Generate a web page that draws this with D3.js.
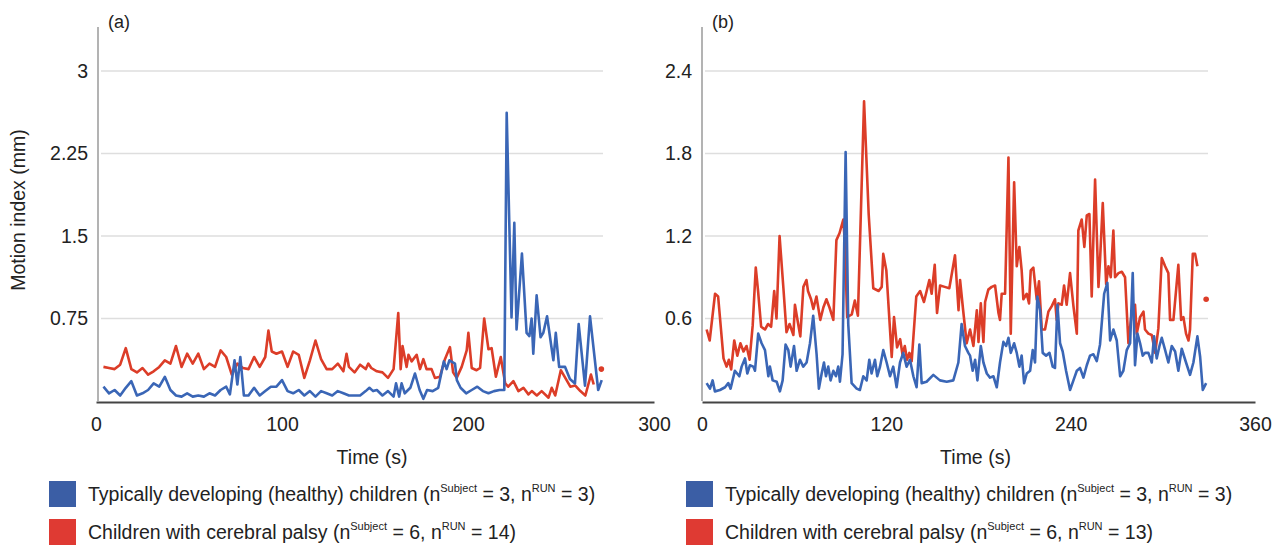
<!DOCTYPE html>
<html>
<head>
<meta charset="utf-8">
<script src="https://cdn.jsdelivr.net/npm/d3@7"></script>
<style>
body { margin: 0; background: #fff; }
svg text { font-family: "Liberation Sans", Arial, sans-serif; fill: #222; }
</style>
</head>
<body>
<div id="chart"></div>
<script>
// [time (s), motion index (mm)]; null = gap in the line
const aBlue = [[4,0.13],[7,0.07],[10,0.10],[13,0.05],[16,0.12],[19,0.18],[22,0.05],[25,0.07],[28,0.10],[31,0.16],[34,0.13],[37,0.22],[40,0.10],[43,0.05],[46,0.04],[49,0.07],[52,0.04],[55,0.05],[58,0.04],[61,0.07],[64,0.05],[67,0.10],[70,0.13],[72,0.06],[74.5,0.37],[76,0.15],[77.6,0.40],[79.5,0.05],[82,0.05],[85,0.12],[88,0.05],[91,0.09],[94,0.13],[97,0.13],[100,0.19],[103,0.09],[106,0.07],[109,0.10],[112,0.05],[115,0.09],[118,0.04],[121,0.09],[124,0.07],[127,0.05],[130,0.09],[133,0.07],[136,0.05],[139,0.05],[142,0.05],[145,0.09],[147,0.12],[149,0.09],[151,0.10],[154,0.05],[157,0.09],[160,0.04],[161.3,0.16],[163,0.04],[164.3,0.16],[166,0.07],[169,0.12],[171.5,0.25],[174,0.10],[176,0.02],[178,0.10],[181,0.09],[184,0.12],[187,0.36],[188.5,0.29],[190,0.37],[193,0.34],[194,0.19],[196,0.12],[199,0.07],[202,0.10],[205,0.13],[208,0.09],[211,0.07],[214,0.09],[217,0.10],[219.5,0.10],[220.8,2.62],[223.4,0.76],[224.9,1.62],[226.1,0.65],[229,1.34],[231.5,0.62],[233,0.59],[234.2,0.75],[235.1,0.43],[236.9,0.96],[239,0.58],[240.5,0.62],[242.5,0.77],[244.6,0.52],[245.9,0.37],[247.2,0.62],[249,0.31],[252.2,0.31],[254.8,0.20],[257.5,0.16],[259.5,0.70],[262.9,0.14],[265.6,0.77],[270,0.10],[271.9,0.19]];
const aRed = [[4,0.31],[7,0.30],[10,0.29],[13,0.33],[16,0.48],[19,0.29],[22,0.26],[25,0.30],[28,0.24],[31,0.27],[34,0.31],[37,0.37],[40,0.34],[43,0.50],[46,0.31],[49,0.43],[52,0.34],[55,0.43],[58,0.29],[61,0.34],[64,0.31],[67,0.46],[70,0.40],[73,0.24],[76,0.34],[79,0.30],[82,0.29],[85,0.40],[88,0.31],[91,0.40],[92.7,0.64],[94.5,0.45],[97,0.43],[100,0.45],[103,0.31],[106,0.45],[109,0.42],[112,0.21],[115,0.37],[118,0.55],[121,0.38],[124,0.29],[127,0.29],[130,0.34],[133,0.27],[134.7,0.43],[136,0.31],[139,0.26],[142,0.33],[145,0.29],[146.4,0.34],[148,0.30],[151,0.27],[154,0.26],[157,0.21],[160,0.29],[162.5,0.80],[163.8,0.29],[164.8,0.50],[167,0.31],[168,0.42],[169.7,0.36],[172.4,0.42],[174.2,0.29],[176,0.38],[177.7,0.29],[180.4,0.29],[182.2,0.21],[184.9,0.22],[187.6,0.38],[190.3,0.49],[192,0.26],[193.9,0.21],[196.6,0.31],[199.3,0.46],[200.2,0.62],[202,0.30],[204.6,0.28],[206.5,0.30],[208.7,0.75],[211,0.47],[212.7,0.48],[215,0.22],[217.6,0.40],[220,0.16],[221.6,0.13],[224.4,0.18],[227.1,0.09],[229.8,0.12],[232.5,0.06],[234.3,0.09],[237,0.05],[239.6,0.09],[243.3,0.03],[245,0.12],[246.9,0.05],[249.9,0.28],[252.3,0.21],[255,0.13],[257.7,0.14],[260.4,0.09],[263.1,0.05],[266.1,0.24],[267.6,0.15],[269.5,null],[271.7,0.29]];
const bBlue = [[3,0.13],[5.2,0.09],[6.9,0.15],[8.4,0.07],[11.7,0.08],[15,0.10],[17.1,0.13],[18.6,0.09],[21.4,0.22],[24.3,0.18],[25.8,0.25],[28,0.31],[29.5,0.20],[31.2,0.26],[33.4,0.25],[34.5,0.22],[36.6,0.49],[38.8,0.42],[41,0.37],[43.2,0.18],[44.2,0.25],[46,0.15],[48.6,0.14],[50.7,0.07],[52.5,0.15],[54.4,0.41],[56.2,0.37],[57.7,0.25],[59.9,0.40],[61.6,0.22],[63.8,0.30],[65.9,0.25],[68.1,0.28],[70.3,0.42],[72.4,0.62],[74.6,0.34],[76.1,0.09],[77.9,0.20],[79.4,0.28],[80.7,0.18],[82.2,0.25],[83.7,0.15],[85.5,0.22],[87.2,0.18],[88.7,0.25],[89.8,0.14],[91.5,0.34],[93.5,1.81],[95.2,0.56],[97.4,0.13],[100.7,0.09],[102.8,0.08],[105,0.18],[107.2,0.15],[108.9,0.30],[110.4,0.20],[112.6,0.30],[114.1,0.18],[115.9,0.25],[118,0.37],[120.2,0.28],[122.4,0.18],[124.5,0.25],[126.7,0.10],[128.9,0.28],[131,0.35],[133.2,0.25],[135.4,0.30],[137.6,0.18],[139.7,0.10],[141.5,0.41],[143,0.13],[146.2,0.14],[150.6,0.19],[154.9,0.15],[159.3,0.14],[163.6,0.15],[166.9,0.28],[169,0.56],[171.2,0.40],[173.4,0.35],[174.5,0.33],[176.2,0.22],[177.8,0.30],[179.3,0.15],[181.5,0.40],[183.2,0.28],[185.4,0.20],[187.5,0.17],[189.7,0.18],[191.9,0.10],[194,0.28],[196.2,0.43],[198,0.40],[199.5,0.46],[201,0.35],[203.2,0.42],[204.9,0.35],[206.6,0.25],[208.1,0.33],[209.7,0.13],[211.4,0.20],[213.6,0.22],[215.3,0.37],[216.8,0.28],[218.3,0.76],[220.1,0.66],[221.8,0.35],[224,0.33],[226.2,0.35],[228.3,0.25],[229.8,0.24],[231.4,0.70],[233.1,0.42],[234.8,0.36],[237,0.22],[239.6,0.08],[241.8,0.15],[244,0.22],[246.1,0.24],[248.3,0.17],[250.5,0.26],[252.6,0.33],[254.8,0.34],[257,0.29],[259.1,0.41],[261.8,0.78],[263.9,0.86],[265.7,0.44],[267.8,0.52],[270,0.44],[272.2,0.18],[274.3,0.22],[276.5,0.37],[278.7,0.42],[280.4,0.93],[281.9,0.26],[283.5,0.49],[285.2,0.42],[286.9,0.33],[288.4,0.35],[290.6,0.35],[292.8,0.28],[294.3,0.47],[296,0.31],[297.8,0.40],[299.3,0.46],[301.5,0.37],[303.6,0.28],[305.8,0.40],[308,0.36],[310.1,0.22],[312.3,0.38],[315.1,0.28],[317.7,0.19],[319.9,0.28],[322.5,0.47],[324.3,0.32],[326,0.08],[328.2,0.13]];
const bRed = [[3,0.52],[5,0.44],[8.5,0.78],[10.5,0.76],[14,0.31],[16,0.25],[17.5,0.30],[19,0.23],[21,0.44],[23,0.33],[25,0.42],[27,0.36],[29,0.40],[31,0.30],[33,0.55],[35,0.97],[36.5,0.80],[38.5,0.54],[41,0.52],[43,0.56],[45,0.54],[47,0.80],[48.5,0.60],[50.5,1.20],[53,0.82],[55,0.50],[57,0.56],[59.5,0.48],[60.5,0.70],[62,0.60],[64,0.47],[66,0.83],[68,0.88],[69,0.80],[71,0.74],[72.5,0.67],[74.5,0.76],[77,0.59],[79,0.68],[81,0.74],[83,0.68],[85.5,0.59],[87.5,1.17],[89.5,1.22],[92,1.32],[93,1.15],[94.5,0.61],[97.5,0.63],[99.5,0.73],[101.5,0.62],[105.5,2.18],[108.5,1.36],[111.5,0.82],[115,0.80],[117,0.83],[118,1.07],[120,0.95],[123.5,0.32],[125,0.61],[127,0.39],[129,0.45],[130.5,0.34],[132,0.40],[133.5,0.30],[135,0.35],[136.5,0.29],[139.5,0.76],[142,0.80],[144.5,0.72],[148,0.88],[149.5,0.78],[151.5,0.99],[153,0.64],[155,0.84],[158,0.83],[161,0.82],[164.7,1.06],[167,0.66],[168,0.88],[170,0.66],[172.3,0.42],[174.5,0.52],[176.7,0.40],[178.9,0.66],[180,0.43],[181.5,0.71],[183.2,0.43],[184.3,0.72],[186.4,0.81],[188.6,0.83],[190.8,0.84],[193,0.64],[194,0.59],[195.1,0.78],[197.3,0.78],[199.5,1.77],[201,0.49],[203.2,1.59],[204.9,0.98],[206.6,1.12],[208.1,0.95],[209.2,0.74],[211.4,0.78],[212.9,0.71],[214,0.95],[215.7,0.97],[217.9,0.74],[219.4,0.87],[221.2,0.52],[223.3,0.52],[225.5,0.65],[227.7,0.69],[229.8,0.74],[230.9,0.59],[232,0.71],[234.2,0.70],[235.7,0.84],[237.4,0.70],[239.6,0.93],[241.8,0.69],[244,0.49],[245,1.24],[247.2,1.32],[248.9,1.12],[250.5,1.35],[252.2,1.36],[253.7,0.76],[255.9,1.61],[258.1,0.83],[259.1,1.02],[260.9,1.44],[263.1,0.85],[264.6,0.98],[266.1,0.90],[267.8,1.24],[268.9,0.90],[271.1,0.93],[273.3,0.94],[275.4,0.90],[277.6,0.42],[279.8,0.65],[281.9,0.70],[283,0.49],[285.2,0.61],[287.4,0.65],[288.4,0.52],[290.6,0.49],[292.8,0.48],[295,0.35],[297.1,0.53],[299.3,1.04],[301.5,0.98],[303.6,0.93],[304.7,0.59],[306.9,0.59],[310.1,0.99],[311.9,0.59],[313.4,0.61],[315.1,0.49],[316.7,0.44],[317.7,0.52],[319.5,1.07],[321,1.07],[322.5,0.98],[325.5,null],[328.2,0.74]];

const aXTicks = [0, 100, 200, 300];
const aYTicks = [0.75, 1.5, 2.25, 3];
const bXTicks = [0, 120, 240, 360];
const bYTicks = [0.6, 1.2, 1.8, 2.4];
const legendBlue = ["Typically developing (healthy) children (n", "Subject", " = 3, n", "RUN", " = 3)"];
const aLegendRed = ["Children with cerebral palsy (n", "Subject", " = 6, n", "RUN", " = 14)"];
const bLegendRed = ["Children with cerebral palsy (n", "Subject", " = 6, n", "RUN", " = 13)"];

const width = 1282, height = 545;
const blue = "#3a66b6", red = "#dc3d28";

const svg = d3.select("#chart").append("svg")
  .attr("width", width)
  .attr("height", height);

const panels = [
  {tag: "(a)", blue: aBlue, red: aRed, xMax: 300, yMax: 3, xTicks: aXTicks, yTicks: aYTicks,
   x0: 96, x1: 654, axisX: 98, gridEnd: 603, legX: 49, legRed: aLegendRed},
  {tag: "(b)", blue: bBlue, red: bRed, xMax: 360, yMax: 2.4, xTicks: bXTicks, yTicks: bYTicks,
   x0: 702, x1: 1255, axisX: 702, gridEnd: 1208, legX: 686, legRed: bLegendRed}
];

panels.forEach(p => {
  let x = d3.scaleLinear().domain([0, p.xMax]).range([p.x0, p.x1]);
  let y = d3.scaleLinear().domain([0, p.yMax]).range([401, 71]);
  let g = svg.append("g");

  // gridlines
  g.selectAll(".grid")
    .data(p.yTicks)
    .enter()
    .append("line")
    .attr("x1", p.axisX + 3)
    .attr("x2", p.gridEnd)
    .attr("y1", d => y(d))
    .attr("y2", d => y(d))
    .attr("stroke", "#dedede")
    .attr("stroke-width", 1.5);

  g.append("line")
    .attr("x1", p.axisX).attr("x2", p.axisX)
    .attr("y1", 27).attr("y2", y(0))
    .attr("stroke", "#9a9a9a")
    .attr("stroke-width", 1.5);

  let yAxis = g.append("g")
    .attr("transform", `translate(${p.axisX},0)`)
    .call(d3.axisLeft(y).tickValues(p.yTicks).tickSize(0).tickPadding(10).tickFormat(d3.format("~g")));
  yAxis.select(".domain").remove();
  yAxis.selectAll("text").style("font-size", "19.5px").attr("fill", "#222");

  let xAxis = g.append("g")
    .attr("transform", `translate(0,${y(0) + 1})`)
    .call(d3.axisBottom(x).tickValues(p.xTicks).tickSize(0).tickSizeOuter(0).tickPadding(15));
  xAxis.select(".domain").attr("stroke", "#444").attr("stroke-width", 2.2);
  xAxis.selectAll("text").style("font-size", "19.5px").attr("fill", "#222");

  g.append("text")
    .attr("x", (p.x0 + p.x1) / 2 - 3)
    .attr("y", 464)
    .attr("text-anchor", "middle")
    .style("font-size", "19.5px")
    .text("Time (s)");

  g.append("text")
    .attr("x", p.axisX + 10)
    .attr("y", 28)
    .style("font-size", "18px")
    .text(p.tag);

  let line = d3.line()
    .defined(d => d[1] != null)
    .x(d => x(d[0]))
    .y(d => y(d[1]));

  [[p.red, red], [p.blue, blue]].forEach(([s, c]) => {
    g.append("path")
      .datum(s)
      .attr("d", line)
      .attr("fill", "none")
      .attr("stroke", c)
      .attr("stroke-width", 2.6)
      .attr("stroke-linejoin", "round");
    // points with no neighbour on either side show as a dot
    let lone = s.filter((d, i) => d[1] != null &&
      (i == 0 || s[i - 1][1] == null) && (i == s.length - 1 || s[i + 1][1] == null));
    g.selectAll(null)
      .data(lone)
      .enter()
      .append("circle")
      .attr("cx", d => x(d[0]))
      .attr("cy", d => y(d[1]))
      .attr("r", 2.8)
      .attr("fill", c);
  });

  // legend
  [[legendBlue, "#3b5ea5", 481], [p.legRed, "#df3a33", 519]].forEach(([parts, c, top]) => {
    g.append("rect")
      .attr("x", p.legX).attr("y", top)
      .attr("width", 27).attr("height", 26)
      .attr("fill", c);
    let t = g.append("text")
      .attr("x", p.legX + 39)
      .attr("y", top + 20)
      .style("font-size", "19.5px");
    parts.forEach((s, i) => {
      let sup = i % 2 == 1;
      t.append("tspan")
        .attr("dy", sup ? -9 : (i > 0 ? 9 : 0))
        .style("font-size", sup ? "11px" : "19.5px")
        .text(s);
    });
  });
});

svg.append("text")
  .attr("transform", "translate(25,210) rotate(-90)")
  .attr("text-anchor", "middle")
  .style("font-size", "19.5px")
  .text("Motion index (mm)");
</script>
</body>
</html>
